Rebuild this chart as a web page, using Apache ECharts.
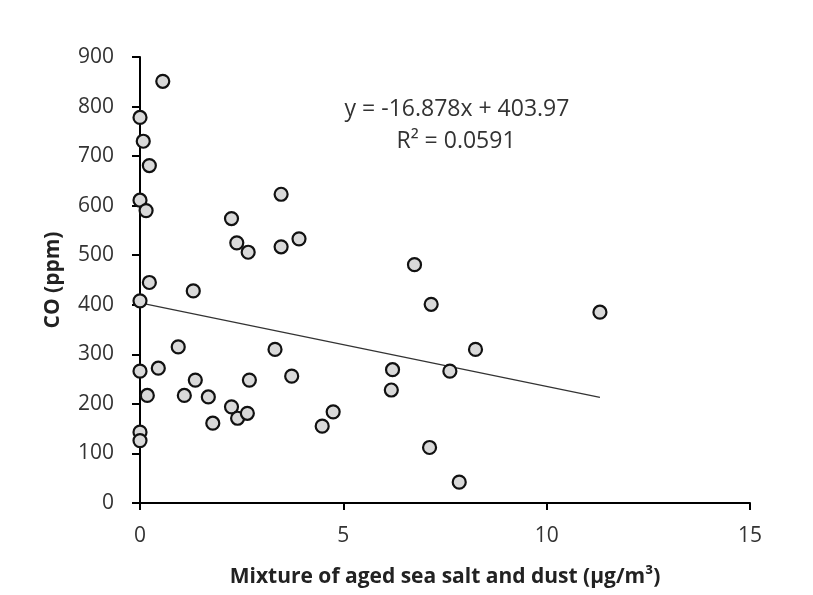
<!DOCTYPE html>
<html>
<head>
<meta charset="utf-8">
<script src="https://cdn.jsdelivr.net/npm/echarts@6/dist/echarts.min.js"></script>
<style>
  html, body { margin: 0; padding: 0; background: #fff; }
  #main { width: 813px; height: 595px; }
</style>
</head>
<body>
<div id="main"></div>
<script>
// scatter points
var saltDust = [0.56, 0, 0.08, 0.23, 0, 0.15, 2.25, 3.47, 2.38, 2.66, 3.47, 3.91, 0.23, 1.31, 0,
  0.94, 3.32, 0, 0.45, 3.73, 1.36, 2.69, 0.18, 1.09, 1.68, 2.25, 2.40, 2.64, 1.79, 4.48, 4.75,
  0, 0, 6.75, 7.16, 11.31, 8.25, 6.21, 7.62, 6.18, 7.12, 7.85];
var coPpm = [851, 778, 730, 681, 611, 590, 574, 623, 525, 506, 517, 533, 445, 428, 408,
  315, 310, 266, 272, 256, 248, 248, 217, 217, 214, 194, 171, 181, 161, 155, 184,
  143, 126, 481, 401, 385, 310, 269, 266, 228, 112, 42];

// linear trend shown in the chart
var slope = -16.878;
var intercept = 403.97;
var trendX = [0, 11.31];
var eqText = 'y = -16.878x + 403.97';
var r2Text = 'R² = 0.0591';

var pts = saltDust.map(function (x, i) { return [x, coPpm[i]]; });
var trend = trendX.map(function (x) { return [x, slope * x + intercept]; });

var font = 'Open Sans';
var myChart = echarts.init(document.getElementById('main'));
option = {
    backgroundColor: '#fff',
    animation: false,
    grid: {
        left: 140,
        right: 63,
        top: 57,
        bottom: 92
    },
    xAxis: {
        type: 'value',
        min: 0,
        max: 15,
        interval: 5,
        name: 'Mixture of aged sea salt and dust (µg/m³)',
        nameLocation: 'middle',
        nameGap: 64,
        nameTextStyle: { fontFamily: font, fontWeight: 'bold', fontSize: 21, color: '#222' },
        axisLine: { lineStyle: { color: '#000', width: 2 } },
        axisTick: { show: true, length: 7, lineStyle: { color: '#000', width: 2 } },
        axisLabel: { fontFamily: font, fontSize: 21, color: '#333', margin: 23 },
        splitLine: { show: false }
    },
    yAxis: {
        type: 'value',
        min: 0,
        max: 900,
        interval: 100,
        name: 'CO (ppm)',
        nameLocation: 'middle',
        nameGap: 76,
        nameTextStyle: { fontFamily: font, fontWeight: 'bold', fontSize: 21, color: '#222' },
        axisLine: { show: true, lineStyle: { color: '#000', width: 2 } },
        axisTick: { show: true, length: 8, lineStyle: { color: '#000', width: 2 } },
        axisLabel: { fontFamily: font, fontSize: 21, color: '#333', margin: 26 },
        splitLine: { show: false }
    },
    graphic: [
        { type: 'text', x: 457, y: 109, style: { text: eqText, fontFamily: font, fontSize: 23, fill: '#333', align: 'center', verticalAlign: 'middle' } },
        { type: 'text', x: 456, y: 141, style: { text: r2Text, fontFamily: font, fontSize: 23, fill: '#333', align: 'center', verticalAlign: 'middle' } }
    ],
    series: [
        {
            type: 'line',
            data: trend,
            symbol: 'none',
            lineStyle: { color: '#333', width: 1.2 },
            z: 1
        },
        {
            type: 'scatter',
            data: pts,
            symbolSize: 13,
            itemStyle: { color: '#d9d9d9', borderColor: '#111', borderWidth: 2.2, opacity: 1 },
            z: 2
        }
    ]
};
myChart.setOption(option);
</script>
</body>
</html>
